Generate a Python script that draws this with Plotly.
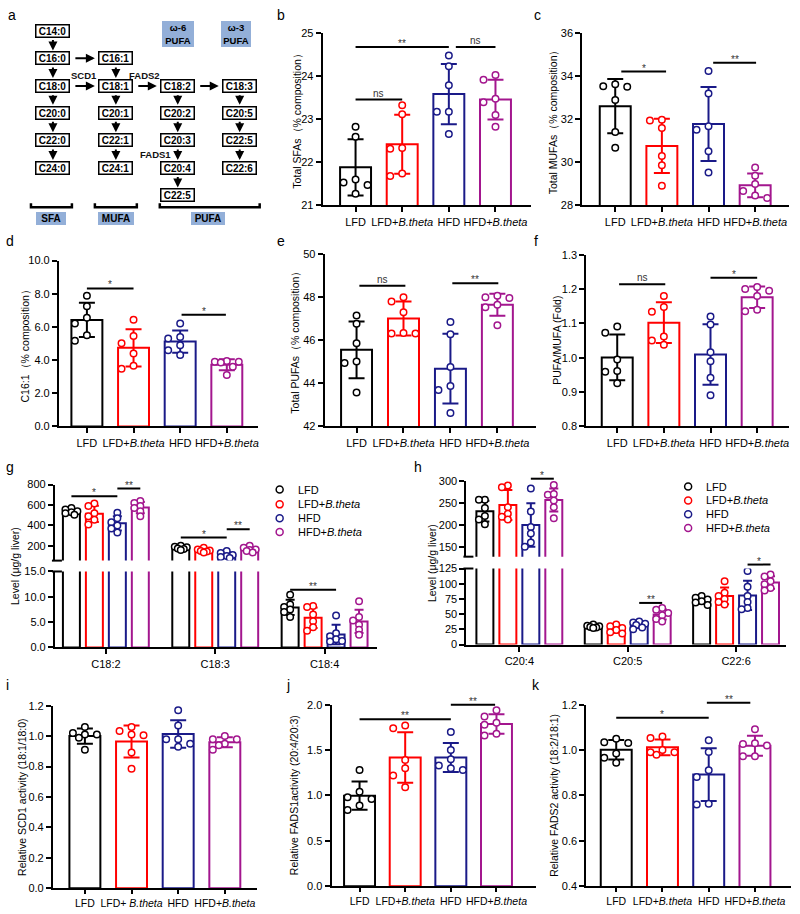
import numpy as np
import plotly.graph_objects as go

W, H = 800, 914
FONT = "Arial, 'Liberation Sans', sans-serif"

# ---------------- data ----------------
GROUPS = ["LFD", "LFD+<i>B.theta</i>", "HFD", "HFD+<i>B.theta</i>"]
GROUPS_I = ["LFD", "LFD+ <i>B.theta</i>", "HFD", "HFD+<i>B.theta</i>"]
COLORS = ["#000000", "#FF0000", "#1A1A88", "#A3168E"]

SFA = [[22.82, 22.59, 21.60, 21.47, 21.53, 21.27],
       [23.32, 23.11, 22.33, 22.31, 21.68, 21.74],
       [24.47, 24.22, 23.78, 23.17, 23.17, 22.65],
       [24.02, 23.91, 23.39, 23.47, 23.09, 22.82]]
MUFA = [[33.61, 33.49, 33.52, 32.88, 31.40, 30.67],
        [31.96, 31.93, 31.58, 30.29, 29.86, 28.91],
        [34.22, 33.18, 31.66, 31.50, 30.51, 29.52],
        [29.75, 29.37, 28.99, 28.66, 28.34, 28.46]]
C16_1 = [[7.88, 7.25, 6.55, 6.20, 5.17, 5.50],
         [6.44, 5.45, 5.01, 4.40, 3.47, 3.66],
         [6.20, 5.40, 5.30, 4.90, 4.60, 4.30],
         [3.95, 3.90, 3.90, 3.85, 3.60, 3.10]]
PUFA = [[47.14, 46.76, 45.85, 44.94, 45.01, 43.57],
        [47.98, 47.79, 47.29, 46.30, 46.33, 46.30],
        [46.84, 46.27, 44.75, 43.87, 43.69, 42.62],
        [47.95, 47.98, 48.05, 47.64, 47.52, 46.68]]
PUFA_MUFA = [[1.091, 1.073, 0.995, 0.961, 0.959, 0.926],
             [1.180, 1.148, 1.134, 1.062, 1.050, 1.038],
             [1.120, 1.097, 1.016, 0.990, 0.942, 0.891],
             [1.206, 1.200, 1.195, 1.180, 1.140, 1.135]]
C18_2 = [[570, 555, 540, 530, 520, 505],
         [615, 590, 520, 490, 455, 410],
         [525, 470, 430, 400, 370, 330],
         [640, 620, 590, 570, 540, 490]]
C18_3 = [[200, 190, 185, 175, 170, 160],
         [180, 165, 155, 150, 145, 135],
         [150, 130, 110, 100, 90, 80],
         [200, 180, 165, 160, 150, 135]]
C18_4 = [[10.4, 8.5, 8.0, 7.5, 7.0, 6.0],
         [8.2, 8.0, 6.5, 5.2, 4.0, 3.3],
         [6.3, 2.8, 2.2, 1.6, 1.3, 1.2],
         [9.1, 6.0, 5.3, 4.5, 3.5, 2.5]]
C20_4 = [[257, 257, 238, 220, 201, 212],
         [289, 285, 240, 225, 218, 212],
         [282, 230, 195, 180, 160, 150],
         [290, 268, 255, 240, 270, 215]]
C20_5 = [[33, 31, 30, 29, 28, 27],
         [33, 30, 27, 24, 20, 18],
         [38, 36, 34, 32, 28, 25],
         [60, 57, 52, 48, 42, 38]]
C22_6 = [[80, 77, 74, 71, 69, 65],
         [104, 85, 80, 75, 70, 66],
         [121, 95, 80, 70, 60, 58],
         [115, 112, 104, 99, 93, 89]]
SCD1 = [[1.06, 1.02, 1.01, 1.01, 0.99, 0.91],
        [1.06, 1.033, 1.011, 1.005, 0.893, 0.786],
        [1.17, 1.07, 0.98, 0.98, 0.95, 0.93],
        [1.00, 0.98, 0.98, 0.95, 0.94, 0.91]]
FADS1 = [[1.28, 1.04, 0.98, 0.96, 0.89, 0.84],
         [1.77, 1.74, 1.39, 1.30, 1.22, 1.09],
         [1.70, 1.50, 1.40, 1.33, 1.30, 1.28],
         [1.94, 1.87, 1.80, 1.78, 1.68, 1.66]]
FADS2 = [[1.035, 1.031, 1.050, 0.985, 0.944, 0.966],
         [1.060, 1.053, 1.000, 0.990, 0.990, 0.980],
         [1.043, 0.992, 0.911, 0.882, 0.760, 0.764],
         [1.092, 1.030, 1.020, 1.027, 0.973, 0.973]]

G_CATS = ["C18:2", "C18:3", "C18:4"]
G_DATA = [C18_2, C18_3, C18_4]
H_CATS = ["C20:4", "C20:5", "C22:6"]
H_DATA = [C20_4, C20_5, C22_6]

# pathway diagram labels
PATH_COLS = [["C14:0", "C16:0", "C18:0", "C20:0", "C22:0", "C24:0"],
             ["C16:1", "C18:1", "C20:1", "C22:1", "C24:1"],
             ["C18:2", "C20:2", "C20:3", "C20:4", "C22:5"],
             ["C18:3", "C20:5", "C22:5", "C22:6"]]
PATH_START_ROW = [0, 1, 2, 2]

# ---------------- helpers ----------------
fig = go.Figure()
layout_axes = {}
shapes = []
annotations = []
n_ax = [0]


def ax_style(**kw):
    d = dict(showline=True, linecolor="black", linewidth=2, ticks="outside",
             ticklen=5, tickwidth=2, tickcolor="black", showgrid=False,
             zeroline=False, fixedrange=True,
             tickfont=dict(family=FONT, size=11, color="black"))
    d.update(kw)
    return d


def new_axes(x0, x1, ytop, ybot, xr, yr, xopts, yopts):
    n_ax[0] += 1
    n = n_ax[0]
    s = "" if n == 1 else str(n)
    layout_axes["xaxis" + s] = dict(domain=[x0 / W, x1 / W], range=xr, anchor="y" + s, **xopts)
    layout_axes["yaxis" + s] = dict(domain=[1 - ybot / H, 1 - ytop / H], range=yr, anchor="x" + s, **yopts)
    return "x" + s, "y" + s


def swarm(vals, ypx, step, thr):
    n = len(vals)
    order = sorted(range(n), key=lambda i: -vals[i])
    placed = []
    offs = [0.0] * n
    for i in order:
        y = ypx(vals[i])
        best, bestd = 0.0, -1
        for k in [0, -1, 1, -0.5, 0.5]:
            x = k * step
            dmin = min([np.hypot(x - px, y - py) for px, py in placed], default=1e9)
            if dmin >= thr:
                best = x
                break
            if dmin > bestd:
                bestd, best = dmin, x
        placed.append((best, y))
        offs[i] = best
    return offs


def add_group(axes_list, xpos, vals, color, bw, capw, ppx, ypx, step, thr):
    """axes_list: list of (xid, yid, lo, hi) -- points shown on that subplot when lo < v <= hi."""
    arr = np.array(vals, float)
    m = arr.mean()
    sd = arr.std(ddof=1)
    offs = swarm(vals, ypx, step, thr)
    for xid, yid, lo, hi in axes_list:
        fig.add_trace(go.Bar(x=[xpos], y=[m], width=[bw], xaxis=xid, yaxis=yid,
                             marker=dict(color="rgba(255,255,255,0)", line=dict(color=color, width=2)),
                             error_y=dict(type="data", array=[sd], visible=True, color=color,
                                          thickness=2, width=capw),
                             showlegend=False, hoverinfo="skip"))
        keep = [i for i, v in enumerate(vals) if lo < v <= hi]
        fig.add_trace(go.Scatter(x=[xpos + offs[i] / ppx for i in keep], y=[vals[i] for i in keep],
                                 mode="markers", xaxis=xid, yaxis=yid,
                                 marker=dict(symbol="circle", size=6.5, color="white",
                                             line=dict(color=color, width=1.5)),
                                 showlegend=False, hoverinfo="skip"))


def val2paper(v, yr, ytop, ybot):
    frac = (v - yr[0]) / (yr[1] - yr[0])
    return 1 - ybot / H + frac * (ybot - ytop) / H


def sig(xid, x0, x1, py, text):
    shapes.append(dict(type="line", xref=xid, yref="paper", x0=x0, x1=x1, y0=py, y1=py,
                       line=dict(color="black", width=2)))
    annotations.append(dict(xref=xid, yref="paper", x=(x0 + x1) / 2, y=py, text=text,
                            showarrow=False, xanchor="center", yanchor="bottom",
                            yshift=-4 if "*" in text else -1,
                            font=dict(family=FONT, size=10, color="#333")))


def ytitle(text, xpx, ycpx):
    annotations.append(dict(xref="paper", yref="paper", x=xpx / W, y=1 - ycpx / H, text=text,
                            textangle=-90, showarrow=False, xanchor="center", yanchor="middle",
                            font=dict(family=FONT, size=10.5, color="black")))


def letter(t, xpx, ypx):
    annotations.append(dict(xref="paper", yref="paper", x=xpx / W, y=1 - ypx / H, text=t,
                            showarrow=False, xanchor="left", yanchor="middle",
                            font=dict(family=FONT, size=14, color="black")))


INF = float("inf")

# ---------------- single panels ----------------
SINGLE = [
    ("b", SFA, GROUPS, (323, 532, 27, 202), [21, 25], [21, 22, 23, 24, 25], "d", 356, 46.7,
     "Total SFAs（% composition）", 297, [(0, 1, 23.45, "ns"), (0, 2, 24.67, "**"), (2.15, 3, 24.67, "ns")]),
    ("c", MUFA, GROUPS, (583, 790, 27, 202), [28, 36], [28, 30, 32, 34, 36], "d", 616, 46.7,
     "Total MUFAs（% composition）", 554, [(0.13, 1.09, 34.2, "*"), (2.1, 3.02, 34.6, "**")]),
    ("d", C16_1, GROUPS, (59, 258, 258, 426), [0, 10], [0, 2, 4, 6, 8, 10], ".1f", 87, 46.7,
     "C16:1（% composition）", 25, [(0, 1, 8.32, "*"), (2.03, 2.98, 6.73, "*")]),
    ("e", PUFA, GROUPS, (325, 537, 251, 426), [42, 50], [42, 44, 46, 48, 50], "d", 357, 47,
     "Total PUFAs（% composition）", 295, [(0.06, 1.04, 48.51, "ns"), (2.04, 3.02, 48.63, "**")]),
    ("f", PUFA_MUFA, GROUPS, (587, 790, 252, 426), [0.8, 1.3], [0.8, 0.9, 1.0, 1.1, 1.2, 1.3], ".1f", 618, 46.7,
     "PUFA/MUFA (Fold)", 557, [(0.04, 1.03, 1.214, "ns"), (2.0, 3.0, 1.233, "*")]),
    ("i", SCD1, GROUPS_I, (53, 257, 709, 894), [0, 1.2], [0, 0.2, 0.4, 0.6, 0.8, 1.0, 1.2], ".1f", 85, 46.7,
     "Relative SCD1 activity (18:1/18:0)", 22, []),
    ("j", FADS1, GROUPS, (332, 537, 708, 892), [0, 2], [0, 0.5, 1.0, 1.5, 2.0], ".1f", 360, 45.7,
     "Relative FADS1activity (20:4/20:3)", 295, [(0, 2, 1.84, "**"), (2, 2.97, 2.0, "**")]),
    ("k", FADS2, GROUPS, (587, 792, 708, 892), [0.4, 1.2], [0.4, 0.6, 0.8, 1.0, 1.2], ".1f", 617, 46.3,
     "Relative FADS2 activity (18:2/18:1)", 555, [(0, 2, 1.143, "*"), (1.96, 2.9, 1.209, "**")]),
]

for key, data, labels, (x0, x1, yt, yb), yr, tv, fmt, first, step, title, tx, sigs in SINGLE:
    xr = [(x0 - first) / step, (x1 - first) / step]
    bottom_row = key in ("i", "j", "k")
    xopts = ax_style(tickvals=[0, 1, 2, 3], ticktext=labels, tickangle=0)
    if bottom_row:
        xopts["ticklen"] = 4
        xopts["tickfont"] = dict(family=FONT, size=10.5, color="black")
    xid, yid = new_axes(x0, x1, yt, yb, xr, yr, xopts, ax_style(tickvals=tv, tickformat=fmt))
    ppu = (yb - yt) / (yr[1] - yr[0])
    for gi in range(4):
        add_group([(xid, yid, -INF, INF)], gi, data[gi], COLORS[gi], 31 / step, 8, step,
                  lambda v, ppu=ppu, yr=yr: (v - yr[0]) * ppu, 12, 7.5)
    for sx0, sx1, v, t in sigs:
        sig(xid, sx0, sx1, val2paper(v, yr, yt, yb), t)
    ytitle(title, tx, (yt + yb) / 2)

# ---------------- broken-axis panels ----------------
BROKEN = [
    ("g", G_DATA, G_CATS, (55, 377), 106, 109.5, (485, 562), [55, 800], [200, 400, 600, 800], "d",
     (573, 650), [0, 15], [0, 5, 10, 15], ".1f", 15,
     [(0, 0, 2, 686, "*", "u"), (0, 2, 3, 761, "**", "u"), (1, 0, 2, 281, "*", "u"),
      (1, 2, 3, 362, "**", "u"), (2, 0, 2, 11.4, "**", "l")],
     280, [490, 505, 519, 533]),
    ("h", H_DATA, H_CATS, (467, 787), 520, 108.5, (481, 558), [127.6, 300], [150, 200, 250, 300], "d",
     (570, 647), [0, 125], [0, 25, 50, 75, 100, 125], "d", 432,
     [(0, 2, 3, 304.5, "*", "u"), (1, 2, 3, 68.4, "**", "l"), (2, 2, 3, 131.5, "*", "l")],
     689, [487, 501, 515, 529]),
]

for (key, gdata, cats, (x0, x1), first, step, (ut, ub), ur, utv, ufmt,
     (lt, lb), lr, ltv, lfmt, tx, sigs, legx, legy) in BROKEN:
    xr = [(x0 - first) / step, (x1 - first) / step]
    xl, yl = new_axes(x0, x1, lt, lb, xr, lr,
                      ax_style(tickvals=[0, 1, 2], ticktext=cats, tickangle=0),
                      ax_style(tickvals=ltv, tickformat=lfmt))
    xu, yu = new_axes(x0, x1, ut, ub, xr, ur,
                      dict(visible=False, fixedrange=True),
                      ax_style(tickvals=utv, tickformat=ufmt))
    ppu_u = (ub - ut) / (ur[1] - ur[0])
    ppu_l = (lb - lt) / (lr[1] - lr[0])

    def ypx(v, ur=ur, lr=lr, ppu_u=ppu_u, ppu_l=ppu_l, lb=lb, lt=lt, ub=ub):
        if v > lr[1]:
            return (lb - ub) + (v - ur[0]) * ppu_u
        return v * ppu_l

    off = [(s - 1.5) * 23 / step for s in range(4)]
    for ci in range(3):
        for gi in range(4):
            add_group([(xl, yl, -INF, lr[1]), (xu, yu, lr[1], INF)], ci + off[gi], gdata[ci][gi],
                      COLORS[gi], 17 / step, 4.5, step, ypx, 6, 5)
    for ci, s0, s1, v, t, seg in sigs:
        if seg == "u":
            py = val2paper(v, ur, ut, ub)
        else:
            py = val2paper(v, lr, lt, lb)
        sig(xl, ci + off[s0], ci + off[s1], py, t)
    ytitle("Level (μg/g liver)", tx, (ut + lb) / 2)
    # axis break marks
    for yy in (ub, lt):
        shapes.append(dict(type="line", xref="paper", yref="paper", x0=(x0 - 3) / W, x1=(x0 + 7) / W,
                           y0=1 - yy / H, y1=1 - yy / H, line=dict(color="black", width=2)))
    # legend
    for gi in range(4):
        shapes.append(dict(type="circle", xref="paper", yref="paper", xsizemode="pixel",
                           ysizemode="pixel", xanchor=legx / W, yanchor=1 - legy[gi] / H,
                           x0=-3.5, x1=3.5, y0=-3.5, y1=3.5, fillcolor="white",
                           line=dict(color=COLORS[gi], width=1.5)))
        annotations.append(dict(xref="paper", yref="paper", x=(legx + 16) / W, y=1 - legy[gi] / H,
                                text=GROUPS[gi], showarrow=False, xanchor="left", yanchor="middle",
                                font=dict(family=FONT, size=11, color="black")))

# ---------------- panel a: pathway diagram ----------------
ROWS_Y = [25, 53, 81, 108, 136, 164, 192]
COLS_X = [53, 116, 178, 240]
BOXFILL = "#93AFD8"


def pbox(text, xpx, ypx, size=10, fill="white", border="black", bw=1.5, width=None, height=None):
    d = dict(xref="paper", yref="paper", x=xpx / W, y=1 - ypx / H, text=text, showarrow=False,
             xanchor="center", yanchor="middle", bgcolor=fill, bordercolor=border, borderwidth=bw,
             borderpad=1, font=dict(family=FONT, size=size, color="black"))
    if width:
        d["width"] = width
    if height:
        d["height"] = height
    annotations.append(d)


def arrow(tx_, ty_, hx, hy):
    annotations.append(dict(xref="paper", yref="paper", x=hx / W, y=1 - hy / H, ax=tx_ - hx, ay=ty_ - hy,
                            text="", showarrow=True, arrowhead=2, arrowsize=0.9, arrowwidth=2,
                            arrowcolor="black", standoff=0, startstandoff=0))


for ci, col in enumerate(PATH_COLS):
    r0 = PATH_START_ROW[ci]
    for i, lab in enumerate(col):
        if i < len(col) - 1:
            arrow(COLS_X[ci], ROWS_Y[r0 + i] + 8, COLS_X[ci], ROWS_Y[r0 + i + 1] - 8)
    for i, lab in enumerate(col):
        pbox("<b>%s</b>" % lab, COLS_X[ci], ROWS_Y[r0 + i], width=30, height=9)

for c0, c1, r in [(0, 1, 1), (0, 1, 2), (1, 2, 2), (2, 3, 2)]:
    arrow(COLS_X[c0] + 21, ROWS_Y[r], COLS_X[c1] - 21, ROWS_Y[r])

for t, xx, yy in [("SCD1", 84, 70), ("FADS2", 145, 70), ("FADS1", 156, 150)]:
    annotations.append(dict(xref="paper", yref="paper", x=xx / W, y=1 - yy / H, text="<b>%s</b>" % t,
                            showarrow=False, xanchor="center", yanchor="middle",
                            font=dict(family=FONT, size=9.5, color="#111")))

pbox("<b>ω-6<br>PUFA</b>", 178, 28, size=9.5, fill=BOXFILL, bw=0, width=30, height=24)
pbox("<b>ω-3<br>PUFA</b>", 236, 28, size=9.5, fill=BOXFILL, bw=0, width=28, height=24)

for xa, xb, lab, lx, lw in [(31, 72, "SFA", 51, 28), (95, 137, "MUFA", 116, 34), (160, 260, "PUFA", 208, 32)]:
    path = "M %f,%f L %f,%f L %f,%f L %f,%f" % (xa / W, 1 - 200 / H, xa / W, 1 - 204 / H,
                                                  xb / W, 1 - 204 / H, xb / W, 1 - 200 / H)
    shapes.append(dict(type="path", xref="paper", yref="paper", path=path,
                       line=dict(color="black", width=2.5)))
    pbox("<b>%s</b>" % lab, lx, 215, size=10, fill=BOXFILL, bw=0, width=lw, height=11)

# panel letters
for t, xx, yy in [("a", 6, 9), ("b", 275, 9), ("c", 533, 9), ("d", 4, 238), ("e", 275, 238),
                  ("f", 533, 238), ("g", 4, 467), ("h", 413, 467), ("i", 4, 688), ("j", 284, 688),
                  ("k", 531, 688)]:
    letter(t, xx, yy)

fig.update_layout(width=W, height=H, margin=dict(l=0, r=0, t=0, b=0),
                  paper_bgcolor="white", plot_bgcolor="rgba(0,0,0,0)",
                  showlegend=False, barmode="overlay",
                  font=dict(family=FONT, color="black"),
                  shapes=shapes, annotations=annotations, **layout_axes)

fig.write_html("out.html", config={"displayModeBar": False},
               post_script="document.body.style.margin='0';document.body.style.overflow='hidden';")
